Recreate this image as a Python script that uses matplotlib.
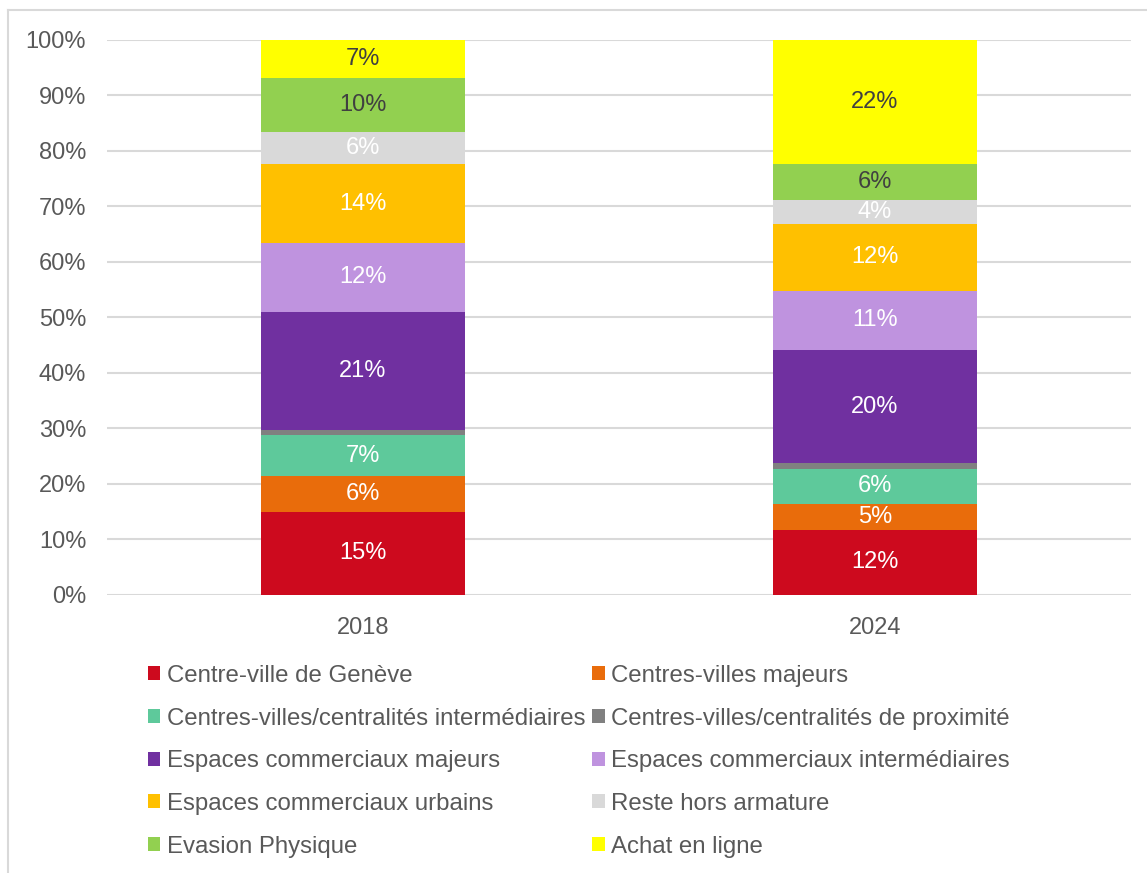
import numpy as np
import matplotlib.pyplot as plt
from matplotlib.lines import Line2D

plt.rcParams['font.family'] = ['Liberation Sans', 'DejaVu Sans']

# shares of spending by location (%)
years = ['2018', '2024']
categories = [
    'Centre-ville de Genève',
    'Centres-villes majeurs',
    'Centres-villes/centralités intermédiaires',
    'Centres-villes/centralités de proximité',
    'Espaces commerciaux majeurs',
    'Espaces commerciaux intermédiaires',
    'Espaces commerciaux urbains',
    'Reste hors armature',
    'Evasion Physique',
    'Achat en ligne',
]
values_2018 = [14.9, 6.4, 7.4, 0.9, 21.4, 12.4, 14.2, 5.8, 9.7, 6.9]
values_2024 = [11.6, 4.7, 6.4, 1.0, 20.4, 10.7, 12.1, 4.3, 6.4, 22.4]

colors = ['#CD0A1E', '#E96C0B', '#5EC99B', '#808080', '#7030A0',
          '#BF93DF', '#FFC000', '#D9D9D9', '#92D050', '#FFFF00']
label_colors = ['white'] * 8 + ['#404040', '#404040']
show_label = [True, True, True, False, True, True, True, True, True, True]

data = np.array([values_2018, values_2024]).T  # rows = categories

fig = plt.figure(figsize=(11.47, 8.73), dpi=100)
ax = fig.add_axes([107 / 1147, 1 - 594.5 / 873, 1024 / 1147, 554.5 / 873])

x = np.arange(len(years))
bottom = np.zeros(len(years))
handles = []
for i, cat in enumerate(categories):
    bars = ax.bar(x, data[i], 0.4, bottom=bottom, color=colors[i], label=cat, zorder=3)
    handles.append(bars)
    if show_label[i]:
        for xi, v, b in zip(x, data[i], bottom):
            ax.text(xi, b + v / 2, f'{v:.0f}%', ha='center', va='center',
                    fontsize=17, color=label_colors[i], zorder=4)
    bottom += data[i]

ax.set_xlim(-0.5, 1.5)
ax.set_ylim(0, 100)
ax.set_yticks(np.arange(0, 101, 10))
ax.set_yticklabels([f'{t}%' for t in range(0, 101, 10)])
ax.set_xticks(x)
ax.set_xticklabels(years)
ax.tick_params(axis='both', length=0, labelsize=17, labelcolor='#595959')
ax.tick_params(axis='y', pad=15)
ax.tick_params(axis='x', pad=16)
ax.grid(axis='y', color='#D9D9D9', linewidth=1.5, zorder=0)
for s in ax.spines.values():
    s.set_visible(False)

# legend, filled row by row
order = [0, 2, 4, 6, 8, 1, 3, 5, 7, 9]
leg = fig.legend([handles[k] for k in order], [categories[k] for k in order],
                 ncol=2, loc='upper left', bbox_to_anchor=(148 / 1147, 1 - 665 / 873),
                 frameon=False, fontsize=17.3, labelcolor='#595959',
                 handlelength=0.52, handleheight=0.52, handletextpad=0.25,
                 columnspacing=0.3, labelspacing=0.86, borderaxespad=0, borderpad=0)

# chart frame
fig.add_artist(Line2D([8 / 1147, 8 / 1147], [0, 1 - 10 / 873], color='#D9D9D9', lw=1.5))
fig.add_artist(Line2D([8 / 1147, 1], [1 - 10 / 873, 1 - 10 / 873], color='#D9D9D9', lw=1.5))

fig.savefig('out.png', dpi=100)
